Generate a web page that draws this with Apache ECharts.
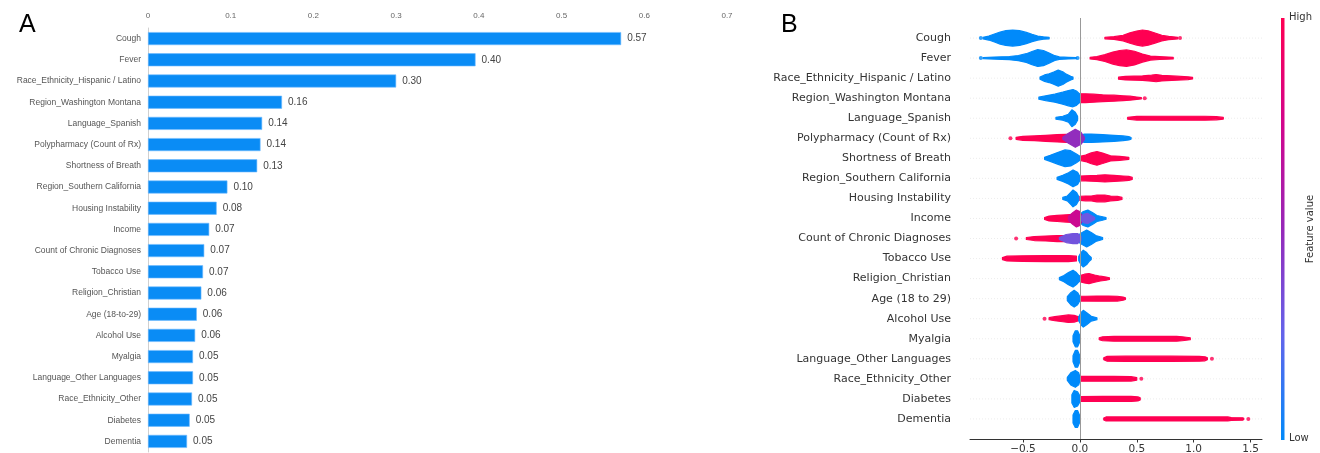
<!DOCTYPE html>
<html>
<head>
<meta charset="utf-8">
<script src="https://cdn.jsdelivr.net/npm/echarts@6/dist/echarts.min.js"></script>
<style>
  html, body { margin: 0; padding: 0; background: #fff; }
  #chart { width: 1320px; height: 453px; }
</style>
</head>
<body>
<div id="chart"></div>
<script>
// Panel A: mean |SHAP| per feature
const barFeatures = [
  'Cough', 'Fever', 'Race_Ethnicity_Hispanic / Latino', 'Region_Washington Montana',
  'Language_Spanish', 'Polypharmacy (Count of Rx)', 'Shortness of Breath',
  'Region_Southern California', 'Housing Instability', 'Income',
  'Count of Chronic Diagnoses', 'Tobacco Use', 'Religion_Christian', 'Age (18-to-29)',
  'Alcohol Use', 'Myalgia', 'Language_Other Languages', 'Race_Ethnicity_Other',
  'Diabetes', 'Dementia'
];
const barValues = [
  0.572, 0.396, 0.300, 0.162, 0.138, 0.136, 0.132, 0.096, 0.083, 0.074,
  0.068, 0.0665, 0.0645, 0.059, 0.057, 0.0544, 0.0544, 0.0532, 0.0504, 0.0472
];

// Panel B: beeswarm, one density profile [shap value, half height in rows] per colour group
const shapFeatures = [
  'Cough', 'Fever', 'Race_Ethnicity_Hispanic / Latino', 'Region_Washington Montana',
  'Language_Spanish', 'Polypharmacy (Count of Rx)', 'Shortness of Breath',
  'Region_Southern California', 'Housing Instability', 'Income',
  'Count of Chronic Diagnoses', 'Tobacco Use', 'Religion_Christian', 'Age (18 to 29)',
  'Alcohol Use', 'Myalgia', 'Language_Other Languages', 'Race_Ethnicity_Other',
  'Diabetes', 'Dementia'
];
const shapTicks = [-0.5, 0, 0.5, 1.0, 1.5];

// low feature value (blue), by row
const lowBlobs = [
  [[-0.85,0.04],[-0.8,0.1],[-0.75,0.2],[-0.7,0.3],[-0.65,0.37],[-0.59,0.4],[-0.53,0.37],[-0.47,0.28],[-0.42,0.18],[-0.37,0.1],[-0.32,0.06],[-0.27,0.04]],
  [[-0.85,0.03],[-0.75,0.05],[-0.62,0.08],[-0.54,0.13],[-0.47,0.22],[-0.42,0.33],[-0.37,0.42],[-0.32,0.38],[-0.27,0.25],[-0.22,0.12],[-0.18,0.06],[-0.1,0.04],[-0.03,0.03]],
  [[-0.35,0.05],[-0.31,0.16],[-0.27,0.22],[-0.23,0.3],[-0.19,0.4],[-0.15,0.32],[-0.12,0.2],[-0.08,0.09],[-0.06,0.05]],
  [[-0.36,0.05],[-0.3,0.12],[-0.22,0.2],[-0.15,0.3],[-0.1,0.38],[-0.06,0.43],[-0.03,0.36],[0,0.2]],
  [[-0.21,0.05],[-0.15,0.1],[-0.1,0.2],[-0.07,0.42],[-0.04,0.3],[-0.02,0.1]],
  [[0,0.15],[0.04,0.21],[0.1,0.21],[0.2,0.18],[0.3,0.15],[0.38,0.12],[0.43,0.08],[0.45,0.04]],
  [[-0.31,0.05],[-0.26,0.15],[-0.19,0.3],[-0.13,0.42],[-0.08,0.38],[-0.03,0.22],[0,0.1]],
  [[-0.2,0.05],[-0.15,0.15],[-0.1,0.28],[-0.06,0.42],[-0.02,0.3],[0,0.1]],
  [[-0.15,0.05],[-0.11,0.12],[-0.08,0.3],[-0.06,0.42],[-0.03,0.3],[-0.01,0.1]],
  [[0,0.2],[0.03,0.35],[0.07,0.42],[0.11,0.3],[0.15,0.15],[0.19,0.1],[0.23,0.04]],
  [[-0.02,0.15],[0.02,0.3],[0.06,0.42],[0.1,0.3],[0.14,0.15],[0.17,0.1],[0.2,0.05]],
  [[-0.01,0.1],[0.01,0.3],[0.03,0.42],[0.06,0.3],[0.08,0.15],[0.1,0.05]],
  [[-0.18,0.05],[-0.14,0.15],[-0.1,0.3],[-0.06,0.42],[-0.03,0.3],[0,0.1]],
  [[-0.11,0.1],[-0.08,0.3],[-0.05,0.42],[-0.02,0.3],[0,0.1]],
  [[-0.01,0.1],[0.01,0.3],[0.03,0.42],[0.06,0.3],[0.1,0.12],[0.15,0.05]],
  [[-0.06,0.15],[-0.04,0.4],[-0.02,0.4],[0,0.15]],
  [[-0.06,0.15],[-0.04,0.42],[-0.02,0.42],[0,0.15]],
  [[-0.11,0.08],[-0.08,0.3],[-0.04,0.42],[-0.01,0.3],[0,0.1]],
  [[-0.07,0.2],[-0.05,0.42],[-0.02,0.35],[0,0.15]],
  [[-0.06,0.2],[-0.04,0.42],[-0.02,0.42],[0,0.15]]
];

// high feature value (red), by row
const highBlobs = [
  [[0.22,0.04],[0.3,0.07],[0.38,0.14],[0.44,0.26],[0.5,0.35],[0.55,0.4],[0.6,0.36],[0.66,0.25],[0.72,0.14],[0.78,0.08],[0.84,0.05],[0.86,0.04]],
  [[0.09,0.04],[0.15,0.08],[0.22,0.17],[0.29,0.3],[0.35,0.38],[0.41,0.41],[0.48,0.34],[0.55,0.2],[0.62,0.1],[0.7,0.07],[0.78,0.05],[0.82,0.04]],
  [[0.34,0.05],[0.4,0.09],[0.55,0.11],[0.63,0.15],[0.67,0.18],[0.72,0.14],[0.85,0.1],[0.95,0.07],[0.99,0.04]],
  [[0,0.22],[0.05,0.22],[0.12,0.2],[0.2,0.17],[0.3,0.15],[0.38,0.12],[0.44,0.1],[0.5,0.06],[0.54,0.03]],
  [[0.42,0.05],[0.5,0.09],[0.8,0.1],[1.1,0.1],[1.2,0.08],[1.26,0.04]],
  [[-0.56,0.05],[-0.5,0.1],[-0.4,0.12],[-0.3,0.15],[-0.2,0.18],[-0.12,0.2],[-0.05,0.15]],
  [[0,0.1],[0.05,0.16],[0.1,0.27],[0.15,0.34],[0.2,0.26],[0.27,0.13],[0.35,0.1],[0.43,0.05]],
  [[0,0.12],[0.05,0.13],[0.15,0.15],[0.22,0.18],[0.3,0.15],[0.38,0.12],[0.43,0.1],[0.46,0.05]],
  [[0,0.1],[0.05,0.12],[0.1,0.12],[0.15,0.17],[0.22,0.17],[0.27,0.12],[0.33,0.1],[0.37,0.05]],
  [[-0.31,0.05],[-0.27,0.12],[-0.2,0.15],[-0.12,0.18],[-0.06,0.2],[0,0.2]],
  [[-0.47,0.05],[-0.4,0.1],[-0.3,0.12],[-0.2,0.15],[-0.12,0.15],[-0.05,0.12]],
  [[-0.68,0.05],[-0.64,0.12],[-0.5,0.14],[-0.3,0.15],[-0.1,0.15],[-0.03,0.12]],
  [[0,0.15],[0.04,0.22],[0.08,0.25],[0.13,0.18],[0.18,0.12],[0.23,0.08],[0.26,0.04]],
  [[0,0.12],[0.05,0.12],[0.15,0.13],[0.25,0.13],[0.33,0.12],[0.38,0.08],[0.4,0.04]],
  [[-0.27,0.05],[-0.22,0.1],[-0.15,0.15],[-0.1,0.19],[-0.05,0.17],[-0.01,0.1]],
  [[0.17,0.05],[0.2,0.1],[0.3,0.12],[0.6,0.12],[0.85,0.12],[0.9,0.1],[0.97,0.05]],
  [[0.21,0.05],[0.24,0.12],[0.4,0.13],[0.8,0.13],[1.05,0.12],[1.1,0.1],[1.12,0.05]],
  [[0,0.12],[0.1,0.12],[0.3,0.12],[0.45,0.11],[0.5,0.06]],
  [[0,0.12],[0.2,0.13],[0.45,0.13],[0.51,0.1],[0.53,0.05]],
  [[0.21,0.05],[0.23,0.1],[0.5,0.1],[1.0,0.1],[1.3,0.1],[1.33,0.07],[1.43,0.06],[1.44,0.03]]
];

// mixed feature values: [row, feature value 0..1, profile]
const midBlobs = [
  [5, 0.48, [[-0.15,0.05],[-0.1,0.25],[-0.04,0.45],[0.01,0.3],[0.04,0.05]]],
  [9, 0.72, [[-0.1,0.1],[-0.06,0.3],[-0.03,0.42],[0,0.35],[0.02,0.1]]],
  [9, 0.3, [[0.01,0.1],[0.04,0.22],[0.07,0.25],[0.1,0.15],[0.13,0.05]]],
  [10, 0.32, [[-0.18,0.05],[-0.12,0.2],[-0.06,0.25],[-0.02,0.25],[0.01,0.1]]]
];

// isolated points [shap value, row]
const highDots = [[0.88,0],[0.57,3],[-0.61,5],[-0.56,10],[-0.31,14],[1.16,16],[0.54,17],[1.48,19]];
const lowDots = [[-0.87,0],[-0.87,1],[-0.02,1]];

const shapXMin = -0.965;
const shapXMax = 1.6;

// shap red_blue colormap
const cmapStops = [
  [0, [0, 138, 250]], [0.25, [100, 100, 235]], [0.5, [150, 40, 185]],
  [0.75, [210, 5, 140]], [1, [255, 0, 82]]
];
function cmap(t) {
  for (let i = 1; i < cmapStops.length; i++) {
    const [t1, c1] = cmapStops[i];
    const [t0, c0] = cmapStops[i - 1];
    if (t <= t1) {
      const f = (t - t0) / (t1 - t0);
      const c = c0.map((v, k) => Math.round(v + (c1[k] - v) * f));
      return 'rgb(' + c.join(',') + ')';
    }
  }
  return 'rgb(255,0,82)';
}

const blobs = [];
highBlobs.forEach((pts, row) => blobs.push({ row, pts, color: cmap(1) }));
lowBlobs.forEach((pts, row) => blobs.push({ row, pts, color: cmap(0) }));
midBlobs.forEach(([row, t, pts]) => blobs.push({ row, pts, color: cmap(t) }));

function renderBlob(params, api) {
  const b = blobs[api.value(2)];
  const rowPx = api.size([0, 1])[1];
  const top = [];
  const bottom = [];
  b.pts.forEach(([x, h]) => {
    const p = api.coord([x, b.row]);
    top.push([p[0], p[1] - h * rowPx]);
    bottom.push([p[0], p[1] + h * rowPx]);
  });
  return {
    type: 'polygon',
    shape: { points: top.concat(bottom.reverse()) },
    style: { fill: b.color, stroke: b.color, lineWidth: 1.2, lineJoin: 'round' }
  };
}

function renderRowLine(params, api) {
  const row = api.value(1);
  const a = api.coord([shapXMin, row]);
  const b = api.coord([shapXMax, row]);
  return {
    type: 'line',
    shape: { x1: a[0], y1: a[1], x2: b[0], y2: b[1] },
    style: { stroke: '#e4e4e4', lineWidth: 0.7, lineDash: [1, 2] }
  };
}

const chart = echarts.init(document.getElementById('chart'));

const option = {
  animation: false,
  textStyle: { fontFamily: 'Liberation Sans' },
  grid: [
    { left: 148, right: 593, top: 28, height: 424, outerBoundsMode: 'none' },
    { left: 970, right: 58, top: 18, height: 421, outerBoundsMode: 'none' }
  ],
  xAxis: [
    {
      gridIndex: 0, type: 'value', position: 'top', min: 0, max: 0.7, interval: 0.1,
      axisLine: { show: false }, axisTick: { show: false }, splitLine: { show: false },
      axisLabel: { fontSize: 8, color: '#666', margin: 8, fontFamily: 'Liberation Sans' }
    },
    {
      gridIndex: 1, type: 'value', position: 'bottom', min: shapXMin, max: shapXMax,
      axisLine: { show: true, onZero: false, lineStyle: { color: '#333', width: 1 } },
      axisTick: { show: true, customValues: shapTicks, length: 3.5, lineStyle: { color: '#333' } },
      splitLine: { show: false },
      axisLabel: {
        customValues: shapTicks, fontSize: 10.5, color: '#333', margin: 5,
        fontFamily: 'DejaVu Sans',
        formatter: v => v.toFixed(1).replace('-', '\u2212')
      }
    }
  ],
  yAxis: [
    {
      gridIndex: 0, type: 'category', inverse: true, data: barFeatures,
      axisLine: { show: true, lineStyle: { color: '#d0d0d0' } },
      axisTick: { show: false },
      axisLabel: { fontSize: 8.5, color: '#555', margin: 7, fontFamily: 'Liberation Sans' }
    },
    {
      gridIndex: 1, type: 'value', inverse: true, min: -1, max: 20, interval: 1,
      axisLine: { show: false }, axisTick: { show: false }, splitLine: { show: false },
      axisLabel: {
        fontSize: 11, color: '#333', margin: 19, fontFamily: 'DejaVu Sans',
        formatter: v => shapFeatures[Math.round(v)] || ''
      }
    }
  ],
  series: [
    {
      name: 'importance', type: 'bar', xAxisIndex: 0, yAxisIndex: 0,
      data: barValues, barWidth: 13,
      itemStyle: { color: '#0a8cf5', borderColor: '#6fbaff', borderWidth: 0.6 },
      label: {
        show: true, position: 'right', distance: 6, fontSize: 10, color: '#444',
        fontFamily: 'Liberation Sans',
        formatter: p => p.value.toFixed(2)
      }
    },
    {
      name: 'rows', type: 'custom', xAxisIndex: 1, yAxisIndex: 1,
      data: shapFeatures.map((f, i) => [0, i]),
      renderItem: renderRowLine,
      silent: true,
      markLine: {
        silent: true, symbol: 'none', label: { show: false },
        lineStyle: { color: '#999', width: 1, type: 'solid' },
        data: [{ xAxis: 0 }]
      }
    },
    {
      name: 'swarm', type: 'custom', xAxisIndex: 1, yAxisIndex: 1,
      data: blobs.map((b, i) => [b.pts[0][0], b.row, i]),
      encode: { x: 0, y: 1 },
      renderItem: renderBlob,
      silent: true
    },
    {
      name: 'high dots', type: 'scatter', xAxisIndex: 1, yAxisIndex: 1,
      data: highDots, symbolSize: 4, itemStyle: { color: cmap(1) }, silent: true
    },
    {
      name: 'low dots', type: 'scatter', xAxisIndex: 1, yAxisIndex: 1,
      data: lowDots, symbolSize: 4, itemStyle: { color: cmap(0) }, silent: true
    }
  ],
  graphic: [
    { type: 'text', left: 19, top: 13, style: { text: 'A', fontSize: 25, fill: '#000', fontFamily: 'Liberation Sans' } },
    { type: 'text', left: 781, top: 13, style: { text: 'B', fontSize: 25, fill: '#000', fontFamily: 'Liberation Sans' } },
    {
      type: 'rect', left: 1281, top: 18,
      shape: { width: 3.5, height: 422 },
      style: {
        fill: new echarts.graphic.LinearGradient(0, 0, 0, 1, [
          { offset: 0, color: cmap(1) }, { offset: 0.25, color: cmap(0.75) },
          { offset: 0.5, color: cmap(0.5) }, { offset: 0.75, color: cmap(0.25) },
          { offset: 1, color: cmap(0) }
        ])
      }
    },
    { type: 'text', left: 1289, top: 12, style: { text: 'High', fontSize: 10, fill: '#333', fontFamily: 'DejaVu Sans' } },
    { type: 'text', left: 1289, top: 433, style: { text: 'Low', fontSize: 10, fill: '#333', fontFamily: 'DejaVu Sans' } },
    {
      type: 'text', x: 1310, y: 229, rotation: Math.PI / 2,
      style: { text: 'Feature value', fontSize: 10, fill: '#333', fontFamily: 'DejaVu Sans', align: 'center', verticalAlign: 'middle' }
    }
  ]
};

chart.setOption(option);
</script>
</body>
</html>
